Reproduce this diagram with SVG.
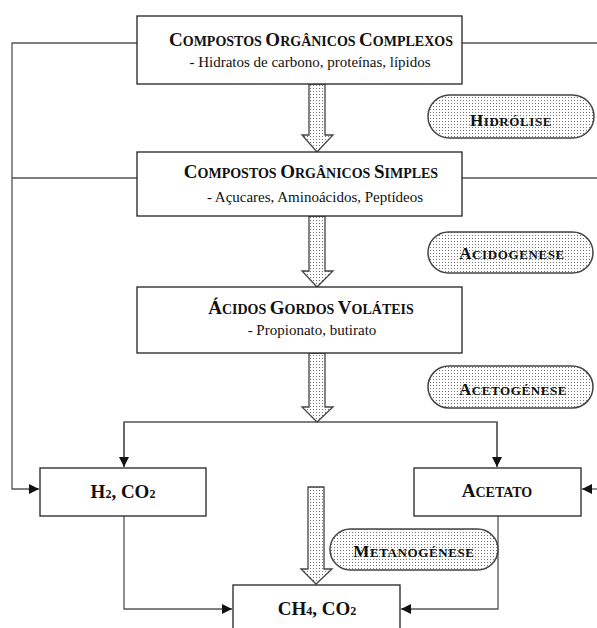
<svg xmlns="http://www.w3.org/2000/svg" width="597" height="628" viewBox="0 0 597 628">
<style>
.box{fill:#fff;stroke:#222;stroke-width:1.3}
.pill{fill:url(#dots);stroke:#444;stroke-width:1.5}
.blk{fill:url(#dots);stroke:#444;stroke-width:1.3;stroke-linejoin:miter}
.ln{fill:none;stroke:#555;stroke-width:1.3}
.ttl{font-family:"Liberation Serif",serif;font-weight:bold;fill:#111;text-anchor:middle}
.B{font-size:19px}
.s{font-size:14px}
.sub{font-family:"Liberation Serif",serif;font-size:15px;fill:#111;text-anchor:middle}
.pl{font-family:"Liberation Serif",serif;font-weight:bold;fill:#111;text-anchor:middle;letter-spacing:0.6px}
.pB{font-size:17px}
.ps{font-size:13px}
.sb{font-size:12px}
</style>
<defs>
<pattern id="dots" width="3" height="3" patternUnits="userSpaceOnUse">
<rect width="3" height="3" fill="#fff"/>
<rect x="1" y="1" width="1" height="1" fill="#777"/>
</pattern>
<marker id="ah" viewBox="0 0 10 10" refX="10" refY="5" markerWidth="10" markerHeight="10" markerUnits="userSpaceOnUse" orient="auto">
<path d="M0,0 L10,5 L0,10 z" fill="#111"/>
</marker>
</defs>

<g id="connectors">
<path class="ln" d="M137,43 H12 V489 H39" marker-end="url(#ah)"/>
<path class="ln" d="M137,178 H12"/>
<path class="ln" d="M462,43 H597"/>
<path class="ln" d="M462,178 H597"/>
<path class="ln" d="M597,489 H582" marker-end="url(#ah)"/>
<path class="ln" d="M124,467 V422 H497 V467" />
<path class="ln" d="M124,422 V467" marker-end="url(#ah)"/>
<path class="ln" d="M497,422 V467" marker-end="url(#ah)"/>
<path class="ln" d="M124,516 V609 H232" marker-end="url(#ah)"/>
<path class="ln" d="M498,516 V609 H401" marker-end="url(#ah)"/>
<path class="blk" d="M309,84 H325 V135 H333 L317,152 L302,135 H309 Z"/>
<path class="blk" d="M309,216 H325 V271 H333 L317,287 L302,271 H309 Z"/>
<path class="blk" d="M309,353 H325 V407 H333 L317,422 L302,407 H309 Z"/>
<path class="blk" d="M308,487 H324 V569 H332 L316,584 L301,569 H308 Z"/>
</g>

<g id="complexos">
<rect class="box" x="137" y="16" width="325" height="68"/>
<text class="ttl" x="311" y="46"><tspan class="B">C</tspan><tspan class="s">OMPOSTOS </tspan><tspan class="B">O</tspan><tspan class="s">RGÂNICOS </tspan><tspan class="B">C</tspan><tspan class="s">OMPLEXOS</tspan></text>
<text class="sub" x="310" y="67">- Hidratos de carbono, proteínas, lípidos</text>
</g>

<g id="simples">
<rect class="box" x="137" y="152" width="325" height="64"/>
<text class="ttl" x="311" y="178"><tspan class="B">C</tspan><tspan class="s">OMPOSTOS </tspan><tspan class="B">O</tspan><tspan class="s">RGÂNICOS </tspan><tspan class="B">S</tspan><tspan class="s">IMPLES</tspan></text>
<text class="sub" x="315" y="202">- Açucares, Aminoácidos, Peptídeos</text>
</g>

<g id="agv">
<rect class="box" x="137" y="287" width="325" height="66"/>
<text class="ttl" x="311" y="314"><tspan class="B">Á</tspan><tspan class="s">CIDOS </tspan><tspan class="B">G</tspan><tspan class="s">ORDOS </tspan><tspan class="B">V</tspan><tspan class="s">OLÁTEIS</tspan></text>
<text class="sub" x="312" y="335">- Propionato, butirato</text>
</g>

<g id="h2co2">
<rect class="box" x="40" y="468" width="166" height="48"/>
<text class="ttl" x="123" y="498"><tspan class="B">H</tspan><tspan class="sb">2</tspan><tspan class="B">, CO</tspan><tspan class="sb">2</tspan></text>
</g>

<g id="acetato">
<rect class="box" x="414" y="468" width="167" height="48"/>
<text class="ttl" x="497" y="497"><tspan class="B">A</tspan><tspan class="s">CETATO</tspan></text>
</g>

<g id="ch4co2">
<rect class="box" x="233" y="585" width="167" height="60"/>
<text class="ttl" x="317" y="615"><tspan class="B">CH</tspan><tspan class="sb">4</tspan><tspan class="B">, CO</tspan><tspan class="sb">2</tspan></text>
</g>

<g id="hidrolise">
<rect class="pill" x="428" y="95" width="166" height="43" rx="21.5"/>
<text class="pl" x="511" y="126"><tspan class="pB">H</tspan><tspan class="ps">IDRÓLISE</tspan></text>
</g>

<g id="acidogenese">
<rect class="pill" x="428" y="232" width="165" height="41" rx="20.5"/>
<text class="pl" x="512" y="259"><tspan class="pB">A</tspan><tspan class="ps">CIDOGENESE</tspan></text>
</g>

<g id="acetogenese">
<rect class="pill" x="428" y="366" width="165" height="42" rx="21"/>
<text class="pl" x="513" y="395"><tspan class="pB">A</tspan><tspan class="ps">CETOGÉNESE</tspan></text>
</g>

<g id="metanogenese">
<rect class="pill" x="330" y="529" width="168" height="41" rx="20.5"/>
<text class="pl" x="414" y="557"><tspan class="pB">M</tspan><tspan class="ps">ETANOGÉNESE</tspan></text>
</g>
</svg>
